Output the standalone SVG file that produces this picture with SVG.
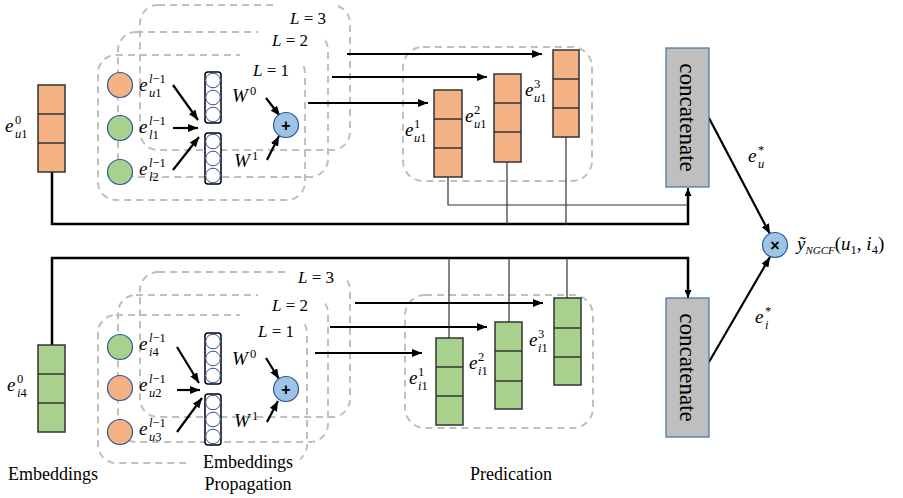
<svg xmlns="http://www.w3.org/2000/svg" width="903" height="498" viewBox="0 0 903 498">
<defs>
<style>
.dash{fill:none;stroke:#BFBFBF;stroke-width:2;stroke-dasharray:7 5}
.wm{fill:#fff;stroke:none}
.box{stroke:#333;stroke-width:1.5}
.or{fill:#F4B183}
.gr{fill:#A9D18E}
.nd{stroke:#2F5597;stroke-width:1.2}
.bl{fill:#9DC3E6;stroke:#2F5597;stroke-width:1.2}
.col{fill:#fff;stroke:#000;stroke-width:1.5}
.cc{fill:#fff;stroke:#2F5597;stroke-width:1}
.arr{stroke:#000;stroke-width:2.2;fill:none;marker-end:url(#ah)}
.thick{stroke:#000;stroke-width:2.5;fill:none}
.thin{stroke:#333;stroke-width:1.2;fill:none}
.cat{fill:#BFBFBF;stroke:#41719C;stroke-width:1.2}
.ct{font-family:"Liberation Serif","Times New Roman",serif;font-size:23px;fill:#000}
.m{font-family:"Liberation Serif","DejaVu Serif",serif;font-style:italic;font-size:19px;fill:#000}
.s{font-size:12.5px}
.n{font-style:normal}
.L{font-size:17px}
.lbl{font-family:"Liberation Serif","Times New Roman",serif;font-size:18px;fill:#000}
.op{font-family:"Liberation Sans",Arial,sans-serif;font-weight:bold;font-size:16px;fill:#000}
</style>
<marker id="ah" viewBox="0 0 10 8" markerWidth="10" markerHeight="8" refX="10" refY="4" orient="auto" markerUnits="userSpaceOnUse"><path d="M0,0 L10,4 L0,8 z" fill="#000"/></marker>
<marker id="ahs" viewBox="0 0 8 7" markerWidth="8" markerHeight="7" refX="8" refY="3.5" orient="auto" markerUnits="userSpaceOnUse"><path d="M0,0 L8,3.5 L0,7 z" fill="#000"/></marker>
</defs>
<rect width="903" height="498" fill="#fff"/>

<!-- ===== layer boxes (dashed) ===== -->
<g id="top-layers">
<rect class="dash" x="140" y="5" width="210" height="145" rx="18"/>
<rect class="wm" x="273" y="0" width="62" height="29"/>
<rect class="dash" x="118" y="32" width="210" height="145" rx="18"/>
<rect class="wm" x="258" y="27" width="64" height="24"/>
<rect class="dash" x="98" y="55" width="207" height="145" rx="18"/>
<rect class="wm" x="240" y="50" width="62" height="29"/>
</g>
<g id="bottom-layers">
<rect class="dash" x="140" y="272" width="210" height="145" rx="18"/>
<rect class="wm" x="287" y="265" width="58" height="27"/>
<rect class="dash" x="118" y="295" width="210" height="147" rx="18"/>
<rect class="wm" x="258" y="290" width="64" height="21"/>
<rect class="dash" x="98" y="315" width="209" height="148" rx="18"/>
<rect class="wm" x="240" y="310" width="64" height="29"/>
</g>
<g id="layer-labels">
<text class="m L" x="290" y="24">L<tspan class="n"> = 3</tspan></text>
<text class="m L" x="272" y="46">L<tspan class="n"> = 2</tspan></text>
<text class="m L" x="253" y="76">L<tspan class="n"> = 1</tspan></text>
<text class="m L" x="298" y="283">L<tspan class="n"> = 3</tspan></text>
<text class="m L" x="272" y="311">L<tspan class="n"> = 2</tspan></text>
<text class="m L" x="258" y="337">L<tspan class="n"> = 1</tspan></text>
</g>

<!-- prediction boxes -->
<rect id="pred-top" class="dash" x="403" y="47" width="189" height="134" rx="20"/>
<rect id="pred-bottom" class="dash" x="405" y="295" width="188" height="133" rx="20"/>

<!-- ===== connectors ===== -->
<g id="connectors">
<path class="thick" d="M52,172 V224 H688 V196"/>
<path d="M688,196 V188" stroke="#000" stroke-width="2" marker-end="url(#ahs)"/>
<path class="thin" d="M448,177 V205 H688"/>
<path class="thin" d="M507,162 V224"/>
<path class="thin" d="M566,137 V225" stroke="#555"/>
<path class="thick" d="M52,345 V258 H688 V290"/>
<path d="M688,290 V298" stroke="#000" stroke-width="2" marker-end="url(#ahs)"/>
<path class="thin" d="M449,258 V338"/>
<path class="thin" d="M509,258 V322" stroke="#555"/>
<path class="thin" d="M567,258 V298"/>
<line class="arr" x1="308" y1="103" x2="428" y2="103"/>
<line class="arr" x1="332" y1="77" x2="487" y2="77"/>
<line class="arr" x1="347" y1="54" x2="542" y2="54"/>
<line class="arr" x1="315" y1="353" x2="422" y2="353"/>
<line class="arr" x1="330" y1="327" x2="487" y2="327"/>
<line class="arr" x1="355" y1="303" x2="543" y2="303"/>
<line class="arr" x1="173" y1="85" x2="198" y2="120"/>
<line class="arr" x1="173" y1="128" x2="198" y2="128"/>
<line class="arr" x1="173" y1="170" x2="199" y2="137"/>
<line class="arr" x1="266" y1="98" x2="280" y2="116"/>
<line class="arr" x1="267" y1="160" x2="279" y2="136"/>
<line class="arr" x1="177" y1="347" x2="199" y2="383"/>
<line class="arr" x1="177" y1="390" x2="200" y2="390"/>
<line class="arr" x1="177" y1="432" x2="202" y2="398"/>
<line class="arr" x1="266" y1="358" x2="279" y2="379"/>
<line class="arr" x1="267" y1="422" x2="278" y2="401"/>
<line class="arr" x1="709" y1="118" x2="770" y2="234"/>
<line class="arr" x1="709" y1="362" x2="770" y2="257"/>
</g>

<!-- ===== TOP nodes ===== -->
<g id="emb-u1">
<rect class="or box" x="38" y="85" width="27" height="87"/>
<line class="box" x1="38" y1="114" x2="65" y2="114"/>
<line class="box" x1="38" y1="143" x2="65" y2="143"/>
<text class="m" x="5" y="132">e<tspan class="s n" x="15" y="124">0</tspan><tspan class="s" x="15" y="138">u<tspan class="n">1</tspan></tspan></text>
</g>

<g id="nb-top">
<circle class="or nd" cx="120" cy="85" r="12.5"/>
<circle class="gr nd" cx="120" cy="128" r="12.5"/>
<circle class="gr nd" cx="120" cy="172" r="12.5"/>
<text class="m" x="139" y="91">e<tspan class="s" x="149" y="83">l<tspan class="n">−1</tspan></tspan><tspan class="s" x="149" y="97">u<tspan class="n">1</tspan></tspan></text>
<text class="m" x="139" y="133">e<tspan class="s" x="149" y="125">l<tspan class="n">−1</tspan></tspan><tspan class="s" x="149" y="139">l<tspan class="n">1</tspan></tspan></text>
<text class="m" x="139" y="175">e<tspan class="s" x="149" y="167">l<tspan class="n">−1</tspan></tspan><tspan class="s" x="149" y="181">l<tspan class="n">2</tspan></tspan></text>
</g>

<g id="w-top">
<rect class="col" x="205" y="72" width="16" height="51" rx="3"/>
<circle class="cc" cx="213" cy="80.5" r="7.3"/><circle class="cc" cx="213" cy="97.5" r="7.3"/><circle class="cc" cx="213" cy="114.5" r="7.3"/>
<rect class="col" x="205" y="133" width="16" height="51" rx="3"/>
<circle class="cc" cx="213" cy="141.5" r="7.3"/><circle class="cc" cx="213" cy="158.5" r="7.3"/><circle class="cc" cx="213" cy="175.5" r="7.3"/>
<text class="m" x="232" y="102">W<tspan class="s n" x="250" y="95">0</tspan></text>
<text class="m" x="234" y="167">W<tspan class="s n" x="252" y="160">1</tspan></text>
</g>

<g id="plus-top">
<circle class="bl" cx="286" cy="125" r="12.5"/>
<text class="op" x="286" y="125" text-anchor="middle" dominant-baseline="central">+</text>
</g>

<g id="pred-u">
<rect class="or box" x="434" y="90" width="28" height="87"/>
<line class="box" x1="434" y1="119" x2="462" y2="119"/><line class="box" x1="434" y1="148" x2="462" y2="148"/>
<rect class="or box" x="494" y="74" width="27" height="88"/>
<line class="box" x1="494" y1="103" x2="521" y2="103"/><line class="box" x1="494" y1="132" x2="521" y2="132"/>
<rect class="or box" x="553" y="50" width="26" height="87"/>
<line class="box" x1="553" y1="79" x2="579" y2="79"/><line class="box" x1="553" y1="108" x2="579" y2="108"/>
<text class="m" x="405" y="136">e<tspan class="s n" x="414" y="128">1</tspan><tspan class="s" x="414" y="142">u<tspan class="n">1</tspan></tspan></text>
<text class="m" x="465" y="122">e<tspan class="s n" x="474" y="114">2</tspan><tspan class="s" x="474" y="128">u<tspan class="n">1</tspan></tspan></text>
<text class="m" x="525" y="96">e<tspan class="s n" x="534" y="88">3</tspan><tspan class="s" x="534" y="102">u<tspan class="n">1</tspan></tspan></text>
</g>

<g id="concat-top">
<rect class="cat" x="666" y="48" width="43" height="139"/>
<text class="ct" transform="translate(687.5,117.5) rotate(90)" text-anchor="middle" dominant-baseline="central">concatenate</text>
</g>

<!-- ===== BOTTOM nodes ===== -->
<g id="emb-i4">
<rect class="gr box" x="38" y="345" width="27" height="87"/>
<line class="box" x1="38" y1="374" x2="65" y2="374"/>
<line class="box" x1="38" y1="403" x2="65" y2="403"/>
<text class="m" x="7" y="391">e<tspan class="s n" x="17" y="383">0</tspan><tspan class="s" x="17" y="397">i<tspan class="n">4</tspan></tspan></text>
</g>

<g id="nb-bottom">
<circle class="gr nd" cx="120" cy="347" r="12.5"/>
<circle class="or nd" cx="120" cy="388" r="12.5"/>
<circle class="or nd" cx="120" cy="432" r="12.5"/>
<text class="m" x="139" y="350">e<tspan class="s" x="149" y="342">l<tspan class="n">−1</tspan></tspan><tspan class="s" x="149" y="356">i<tspan class="n">4</tspan></tspan></text>
<text class="m" x="139" y="391">e<tspan class="s" x="149" y="383">l<tspan class="n">−1</tspan></tspan><tspan class="s" x="149" y="397">u<tspan class="n">2</tspan></tspan></text>
<text class="m" x="139" y="435">e<tspan class="s" x="149" y="427">l<tspan class="n">−1</tspan></tspan><tspan class="s" x="149" y="441">u<tspan class="n">3</tspan></tspan></text>
</g>

<g id="w-bottom">
<rect class="col" x="205" y="333" width="16" height="51" rx="3"/>
<circle class="cc" cx="213" cy="341.5" r="7.3"/><circle class="cc" cx="213" cy="358.5" r="7.3"/><circle class="cc" cx="213" cy="375.5" r="7.3"/>
<rect class="col" x="205" y="394" width="16" height="51" rx="3"/>
<circle class="cc" cx="213" cy="402.5" r="7.3"/><circle class="cc" cx="213" cy="419.5" r="7.3"/><circle class="cc" cx="213" cy="436.5" r="7.3"/>
<text class="m" x="232" y="365">W<tspan class="s n" x="250" y="358">0</tspan></text>
<text class="m" x="234" y="427">W<tspan class="s n" x="252" y="420">1</tspan></text>
</g>

<g id="plus-bottom">
<circle class="bl" cx="286" cy="389" r="12.5"/>
<text class="op" x="286" y="389" text-anchor="middle" dominant-baseline="central">+</text>
</g>

<g id="pred-i">
<rect class="gr box" x="436" y="338" width="27" height="87"/>
<line class="box" x1="436" y1="367" x2="463" y2="367"/><line class="box" x1="436" y1="396" x2="463" y2="396"/>
<rect class="gr box" x="495" y="322" width="27" height="87"/>
<line class="box" x1="495" y1="351" x2="522" y2="351"/><line class="box" x1="495" y1="381" x2="522" y2="381"/>
<rect class="gr box" x="554" y="298" width="27" height="87"/>
<line class="box" x1="554" y1="328" x2="581" y2="328"/><line class="box" x1="554" y1="357" x2="581" y2="357"/>
<text class="m" x="409" y="384">e<tspan class="s n" x="418" y="376">1</tspan><tspan class="s" x="418" y="390">i<tspan class="n">1</tspan></tspan></text>
<text class="m" x="469" y="369">e<tspan class="s n" x="478" y="361">2</tspan><tspan class="s" x="478" y="375">i<tspan class="n">1</tspan></tspan></text>
<text class="m" x="529" y="346">e<tspan class="s n" x="538" y="338">3</tspan><tspan class="s" x="538" y="352">i<tspan class="n">1</tspan></tspan></text>
</g>

<g id="concat-bottom">
<rect class="cat" x="666" y="298" width="43" height="139"/>
<text class="ct" transform="translate(687.5,367.5) rotate(90)" text-anchor="middle" dominant-baseline="central">concatenate</text>
</g>

<!-- ===== output ===== -->
<g id="mult">
<circle class="bl" cx="775" cy="245" r="12.5"/>
<text class="op" x="775" y="245" text-anchor="middle" dominant-baseline="central">×</text>
<text class="m" x="797" y="250">ỹ<tspan font-size="11" dy="4">NGCF</tspan><tspan class="n" dy="-4">(</tspan>u<tspan class="s n" dy="4">1</tspan><tspan class="n" dy="-4">, </tspan>i<tspan class="s n" dy="4">4</tspan><tspan class="n" dy="-4">)</tspan></text>
</g>
<text class="m" x="748" y="162">e<tspan class="s n" x="758" y="154">*</tspan><tspan class="s" x="758" y="168">u</tspan></text>
<text class="m" x="755" y="323">e<tspan class="s n" x="765" y="315">*</tspan><tspan class="s" x="765" y="329">i</tspan></text>

<!-- ===== captions ===== -->
<text class="lbl" x="8" y="480">Embeddings</text>
<rect class="wm" x="190" y="451" width="110" height="47"/>
<text class="lbl" x="248" y="468" text-anchor="middle">Embeddings</text>
<text class="lbl" x="248" y="490" text-anchor="middle">Propagation</text>
<text class="lbl" x="511" y="480" text-anchor="middle">Predication</text>
</svg>
